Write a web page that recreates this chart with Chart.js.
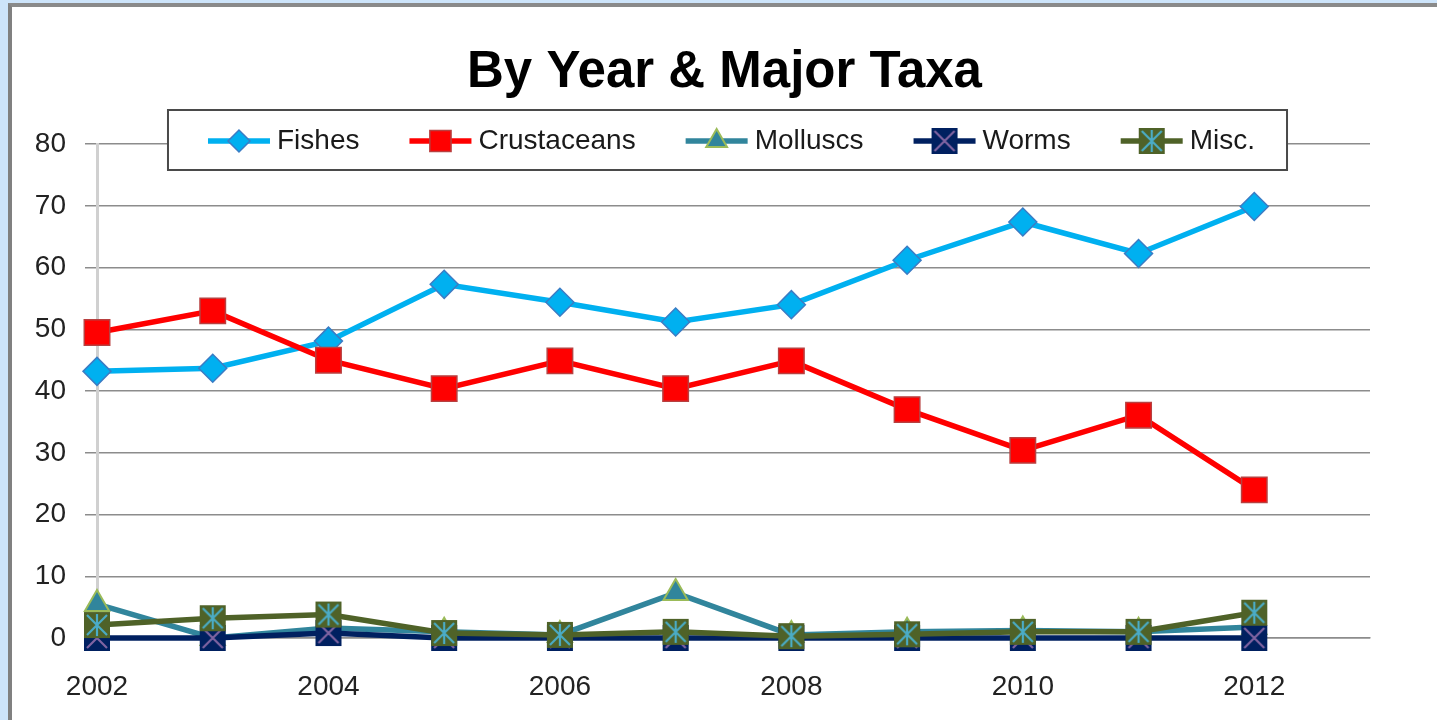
<!DOCTYPE html>
<html><head><meta charset="utf-8">
<script src="https://cdn.jsdelivr.net/npm/chart.js@4"></script>
<style>
html,body{margin:0;padding:0;width:1437px;height:720px;overflow:hidden;background:#cde4fa;}
#frame{position:absolute;left:8px;top:3px;width:1429px;height:717px;border-left:4px solid #808080;border-top:4px solid #8a8a8a;background:#fff;box-sizing:border-box;}
#wrap{position:absolute;left:0;top:0;width:1425px;height:713px;}
</style></head><body>
<div id="frame"><div id="wrap"><canvas id="c"></canvas></div></div>
<script>
// ---- data ----
const years = [2002, 2003, 2004, 2005, 2006, 2007, 2008, 2009, 2010, 2011, 2012];
const fishes = [43.2, 43.7, 48.1, 57.3, 54.4, 51.2, 54.0, 61.2, 67.4, 62.3, 69.9];
const crustaceans = [49.5, 53.0, 45.0, 40.4, 44.9, 40.4, 44.9, 37.0, 30.4, 36.1, 24.0];
const molluscs = [5.5, 0, 1.6, 1.0, 0.5, 7.3, 0.5, 1.0, 1.2, 1.0, 1.8];
const worms = [0, 0, 0.8, 0, 0, 0, 0, 0, 0, 0, 0];
const misc = [2.1, 3.2, 3.8, 0.8, 0.5, 1.0, 0.3, 0.6, 1.0, 1.0, 4.1];
const seriesNames = ['Fishes', 'Crustaceans', 'Molluscs', 'Worms', 'Misc.'];
const titleText = 'By Year & Major Taxa';

const FAMILY = '"Liberation Sans", Arial, sans-serif';

function squareMarker(fill, cross, withVertical) {
  const s = 28, c = document.createElement('canvas');
  c.width = s; c.height = s;
  const g = c.getContext('2d');
  const a = 1, b = s - 1;
  g.fillStyle = fill; g.fillRect(a, a, b - a, b - a);
  g.strokeStyle = cross; g.lineWidth = 2.2; g.lineCap = 'butt';
  g.beginPath();
  g.moveTo(a + 3, a + 3); g.lineTo(b - 3, b - 3);
  g.moveTo(b - 3, a + 3); g.lineTo(a + 3, b - 3);
  if (withVertical) { g.moveTo(s / 2, a + 2); g.lineTo(s / 2, b - 2); }
  g.stroke();
  return c;
}
const wormsMarker = squareMarker('#002060', '#8064A2', false);
const miscMarker = squareMarker('#4F6228', '#4BACC6', true);

const datasets = [
  { label: seriesNames[0], data: fishes, borderColor: '#00B0F0', backgroundColor: '#00B0F0',
    pointStyle: 'rectRot', pointRadius: 14, pointBorderColor: '#3B7CC4', pointBorderWidth: 1.5, order: 5 },
  { label: seriesNames[1], data: crustaceans, borderColor: '#FF0000', backgroundColor: '#FF0000',
    pointStyle: 'rect', pointRadius: 18, pointBorderColor: '#B84040', pointBorderWidth: 1.5, order: 4 },
  { label: seriesNames[2], data: molluscs, borderColor: '#31859C', backgroundColor: '#31859C',
    pointStyle: 'triangle', pointRadius: 14, pointBorderColor: '#9BBB59', pointBorderWidth: 2, order: 3 },
  { label: seriesNames[3], data: worms, borderColor: '#002060', backgroundColor: '#002060',
    pointStyle: wormsMarker, pointRadius: 14, pointBorderWidth: 0, order: 2 },
  { label: seriesNames[4], data: misc, borderColor: '#4F6228', backgroundColor: '#4F6228',
    pointStyle: miscMarker, pointRadius: 14, pointBorderWidth: 0, order: 1 },
].map(d => Object.assign({ borderWidth: 5.5, tension: 0, clip: false, pointHoverRadius: d.pointRadius }, d));

const legendBox = {
  id: 'legendBox',
  afterDraw(chart) {
    const ctx = chart.ctx;
    ctx.save();
    ctx.font = '28px ' + FAMILY;
    const lineLen = 62, gapText = 7, itemGap = 50;
    const dss = chart.data.datasets;
    const widths = dss.map(ds => lineLen + gapText + ctx.measureText(ds.label).width);
    const total = widths.reduce((a, b) => a + b, 0) + itemGap * (dss.length - 1);
    const padL = 40, padR = 32;
    const boxW = total + padL + padR;
    const cx = chart.width / 2 + 3;
    const top = 103, h = 60;
    const left = cx - boxW / 2;
    ctx.fillStyle = '#ffffff';
    ctx.fillRect(left, top, boxW, h);
    ctx.strokeStyle = '#4a4a4a'; ctx.lineWidth = 2;
    ctx.strokeRect(left, top, boxW, h);
    const cy = top + h / 2 + 1;
    let x = left + padL;
    dss.forEach((ds, i) => {
      ctx.strokeStyle = ds.borderColor; ctx.lineWidth = ds.borderWidth;
      ctx.beginPath(); ctx.moveTo(x, cy); ctx.lineTo(x + lineLen, cy); ctx.stroke();
      ctx.fillStyle = ds.backgroundColor;
      ctx.strokeStyle = ds.pointBorderColor || ds.borderColor;
      ctx.lineWidth = ds.pointBorderWidth;
      const r = ds.pointStyle === 'rect' ? 15 : (ds.pointStyle === 'triangle' ? 12 : 11);
      Chart.helpers.drawPoint(ctx, { pointStyle: ds.pointStyle, radius: r, rotation: 0, borderWidth: ds.pointBorderWidth }, x + lineLen / 2, cy);
      ctx.fillStyle = '#1a1a1a';
      ctx.textBaseline = 'middle'; ctx.textAlign = 'left';
      ctx.fillText(ds.label, x + lineLen + gapText, cy);
      x += widths[i] + itemGap;
    });
    ctx.restore();
  }
};

new Chart(document.getElementById('c'), {
  type: 'line',
  data: { labels: years, datasets },
  options: {
    responsive: true, maintainAspectRatio: false, devicePixelRatio: 1, animation: false,
    layout: { padding: { left: 0, right: 0, top: 0, bottom: 0 } },
    plugins: {
      legend: { display: false },
      tooltip: { enabled: false },
      title: { display: true, text: titleText, color: '#000',
        font: { size: 51, weight: 'bold', family: FAMILY, lineHeight: 1.2 },
        padding: { top: 35, bottom: 41 } }
    },
    scales: {
      x: { type: 'linear', min: 2002, max: 2013,
        ticks: { stepSize: 2, includeBounds: false, autoSkip: false, maxRotation: 0, padding: 25,
          color: '#222', font: { size: 28, family: FAMILY }, callback: v => String(v) },
        grid: { drawOnChartArea: false, drawTicks: true, tickLength: 7, color: '#8c8c8c', lineWidth: 1.5 },
        border: { display: true, color: '#8c8c8c', width: 1.5 },
        afterFit(s) { s.height = 82; } },
      y: { min: 0, max: 80,
        ticks: { stepSize: 10, padding: 19, color: '#222', font: { size: 28, family: FAMILY } },
        grid: { color: '#8c8c8c', lineWidth: 1.5, drawTicks: true, tickLength: 12 },
        border: { display: true, color: '#d0d0d0', width: 3 },
        afterFit(s) { s.width = 85; } },
      spacer: { type: 'linear', position: 'right', display: true,
        ticks: { display: false }, grid: { display: false }, border: { display: false },
        afterFit(s) { s.width = 67; } }
    }
  },
  plugins: [legendBox]
});
</script>
</body></html>
